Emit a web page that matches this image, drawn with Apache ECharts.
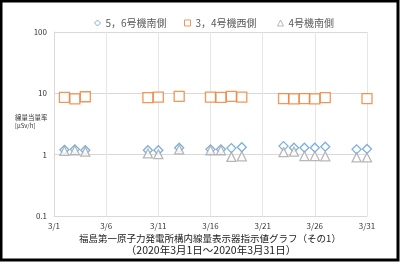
<!DOCTYPE html>
<html><head><meta charset="utf-8">
<script src="https://cdn.jsdelivr.net/npm/echarts@6/dist/echarts.min.js"></script>
<style>html,body{margin:0;padding:0;background:#fff}#c{width:400px;height:262px}</style>
</head><body><div id="c"></div>
<script>
const days = [2,3,4,10,11,13,16,17,18,19,23,24,25,26,27,30,31];
const unit56South = [1.2,1.22,1.18,1.18,1.18,1.3,1.22,1.22,1.28,1.32,1.38,1.3,1.3,1.3,1.35,1.22,1.24];
const unit34West = [8.6,8.1,8.8,8.5,8.7,8.9,8.7,8.6,8.9,8.7,8.2,8.1,8.2,8.1,8.5,null,8.2];
const unit4South = [1.15,1.18,1.12,1.05,1.02,1.22,1.18,1.18,0.92,0.94,1.1,1.12,0.95,0.95,0.94,0.9,0.9];
const seriesNames = ['5，6号機南側','3，4号機西側','4号機南側'];
const legendIcons = ['diamond','rect','triangle'];
const yTicks = [0.1,1,10,100];
const xTickDays = [1,6,11,16,21,26,31];
const titleLine1 = '福島第一原子力発電所構内線量表示器指示値グラフ（その1）';
const titleLine2 = '（2020年3月1日～2020年3月31日）';
const yName1 = '線量当量率';
const yName2 = '[μSv/h]';

const font = '"Noto Sans CJK JP", "Noto Sans", sans-serif';
const pair = arr => days.map((d,i)=>[d, arr[i]]).filter(p=>p[1]!=null);
const chart = echarts.init(document.getElementById('c'));
const mk = (name, data, symbol, color, size) => ({
  name, type:'scatter', data: pair(data), symbol, symbolSize: size,
  itemStyle:{color:'#fff', borderColor:color, borderWidth:1.3}
});
const legendLefts = [89, 179, 272];
chart.setOption({
  animation:false,
  textStyle:{fontFamily:font},
  legend: seriesNames.map((n,i)=>({top:13, left:legendLefts[i], itemWidth:6, itemHeight:6, itemSymbolSize:6,
    textStyle:{fontSize:10, color:'#595959', fontFamily:font},
    data:[{name:n, icon:legendIcons[i], itemStyle:{borderWidth:1}}]})),
  grid:{left:54, right:33, top:32, bottom:46},
  xAxis:{type:'value', min:1, max:31, interval:5,
    axisLine:{show:true, lineStyle:{color:'#d9d9d9'}}, axisTick:{show:false},
    splitLine:{show:true, lineStyle:{color:'#e6e6e6'}, showMinLine:false},
    axisLabel:{fontSize:8, color:'#333', margin:6, formatter:v=> xTickDays.includes(v)? '3/'+v : ''}},
  yAxis:{type:'log', logBase:10, min:yTicks[0], max:yTicks[yTicks.length-1],
    axisLine:{show:true, lineStyle:{color:'#d9d9d9'}}, axisTick:{show:false},
    splitLine:{lineStyle:{color:'#d9d9d9'}},
    axisLabel:{fontSize:8, color:'#333', margin:7, formatter:v=>String(+v.toPrecision(3))}},
  series:[
    mk(seriesNames[0], unit56South, 'diamond', '#5B9BD5', 9),
    mk(seriesNames[1], unit34West, 'rect', '#ED7D31', 10),
    mk(seriesNames[2], unit4South, 'triangle', '#A5A5A5', 9)
  ],
  graphic:[
    {type:'rect', shape:{x:1,y:1,width:397,height:259}, style:{fill:'none', stroke:'#000', lineWidth:3}, silent:true},
    {type:'text', left:15, top:114, style:{text:yName1, fill:'#333', font:'6.5px '+font}},
    {type:'text', left:15, top:123, style:{text:yName2, fill:'#333', font:'6px '+font}},
    {type:'text', x:210, y:238, style:{text:titleLine1, align:'center', verticalAlign:'middle', fill:'#222', font:'9.5px '+font}},
    {type:'text', x:211, y:250, style:{text:titleLine2, align:'center', verticalAlign:'middle', fill:'#222', font:'10.5px '+font}}
  ]
});
</script></body></html>
